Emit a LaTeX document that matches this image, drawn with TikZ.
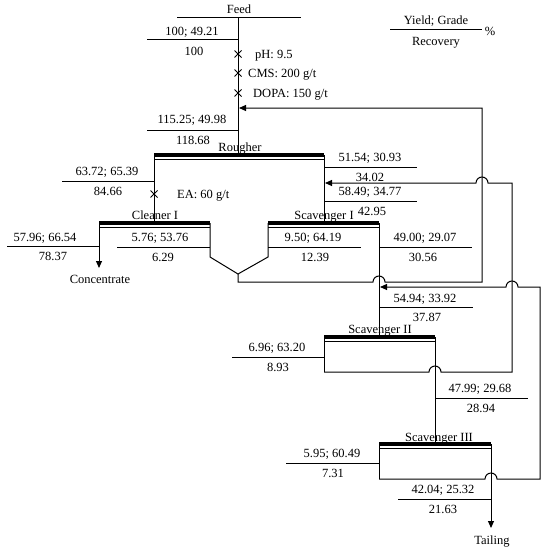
\documentclass[tikz,border=0pt]{standalone}
\usepackage{fontspec}
\setmainfont{Liberation Serif}
\usetikzlibrary{arrows.meta,shapes.misc}
\begin{document}
\begin{tikzpicture}[x=1pt,y=-1pt,font=\fontsize{12.5}{14}\selectfont,
  ln/.style={line width=1pt},
  bar/.style={line width=3.2pt},
  arr/.style={ln,-{Triangle[length=7pt,width=6pt]}},
  txt/.style={inner sep=0pt,anchor=base},
  txtl/.style={inner sep=0pt,anchor=base west},
  xmark/.style={draw,cross out,line width=1pt,minimum size=6pt,inner sep=0pt}]
\useasboundingbox (0,0) rectangle (550,551);
% key points
\coordinate (feedL) at (177,18);
\coordinate (feedR) at (301,18);
\coordinate (feedM) at (238,18);
\coordinate (roIn) at (238,155);
\coordinate (roL) at (154,155);
\coordinate (roR) at (324,155);
\coordinate (clL) at (99,223);
\coordinate (clR) at (210,223);
\coordinate (clIn) at (154,223);
\coordinate (s1L) at (268,223);
\coordinate (s1R) at (379,223);
\coordinate (s1In) at (324,223);
\coordinate (s2L) at (324,337);
\coordinate (s2R) at (435,337);
\coordinate (s2In) at (379,337);
\coordinate (s3L) at (379,444);
\coordinate (s3R) at (491,444);
\coordinate (s3In) at (435,444);
\coordinate (conc) at (99,268);
\coordinate (tail) at (491,528);
\coordinate (clB) at (210,257);
\coordinate (s1B) at (268,257);
\coordinate (vtip) at (238,274);
\coordinate (vend) at (238,282);
\coordinate (mid1) at (482,282);
\coordinate (mid2) at (482,108);
\coordinate (mid3) at (239,108);
\coordinate (s2BL) at (324,372);
\coordinate (s2BR) at (512,372);
\coordinate (r2T) at (512,183);
\coordinate (r2E) at (325,183);
\coordinate (s3BL) at (379,479);
\coordinate (s3BR) at (540,479);
\coordinate (r3T) at (540,287);
\coordinate (r3E) at (380,287);
\coordinate (j1) at (379,282);
\coordinate (j2) at (482,183);
\coordinate (j3) at (512,287);
\coordinate (j4) at (435,372);
\coordinate (j5) at (491,479);
% label lines
\foreach \n/\a/\b/\y in {1/147/238/40, 2/147/238/130, 3/62/154/181, 4/324/417/167,
  5/324/417/201, 6/7/99/246, 7/117/210/247, 8/268/361/247, 9/379/472/247,
  10/380/473/307, 11/232/324/357, 12/435/528/398, 13/286/379/463, 14/398/491/499,
  15/390/482/30}{
  \coordinate (ll\n a) at (\a,\y);
  \coordinate (ll\n b) at (\b,\y);
  \draw[ln] (ll\n a) -- (ll\n b);
}
% feed
\draw[ln] (feedL) -- (feedR);
\draw[ln] (feedM) -- (roIn);
\node[xmark] (x1) at (238,54) {};
\node[xmark] (x2) at (238,73) {};
\node[xmark] (x3) at (238,93) {};
\node[xmark] (x4) at (154,194) {};
% cell tops
\foreach \l/\r in {roL/roR, clL/clR, s1L/s1R, s2L/s2R, s3L/s3R}{
  \draw[bar] (\l) -- (\r);
  \draw[ln] ([yshift=-4.5pt]\l) -- ([yshift=-4.5pt]\r);
}
% rougher to cleaner / scavenger
\draw[ln] (roL) -- (clIn);
\draw[ln] (roR) -- (s1In);
% cleaner I and scavenger I, middlings recycle
\draw[arr] (clL) -- (conc);
\draw[ln] (clR) -- (clB) -- (vtip) -- (s1B) -- (s1L);
\draw[arr] (vtip) -- (vend) -- ([xshift=-6pt]j1) arc[start angle=180,end angle=360,radius=6]
  -- (mid1) -- (mid2) -- (mid3);
\draw[ln] (s1R) -- (s2In);
% scavenger II
\draw[ln] (s2L) -- (s2BL);
\draw[arr] (s2BL) -- ([xshift=-6pt]j4) arc[start angle=180,end angle=360,radius=6]
  -- (s2BR) -- (r2T) -- ([xshift=6pt]j2) arc[start angle=0,end angle=-180,radius=6] -- (r2E);
\draw[ln] (s2R) -- (s3In);
% scavenger III
\draw[ln] (s3L) -- (s3BL);
\draw[arr] (s3BL) -- ([xshift=-6pt]j5) arc[start angle=180,end angle=360,radius=6]
  -- (s3BR) -- (r3T) -- ([xshift=6pt]j3) arc[start angle=0,end angle=-180,radius=6] -- (r3E);
\draw[arr] (s3R) -- (tail);
% texts
\node[txt] (tFeed) at (239,13.5) {Feed};
\node[txt] (t1) at (192,35.5) {100; 49.21};
\node[txt] (t2) at (194,55.5) {100};
\node[txtl] (tpH) at (255,58.5) {pH: 9.5};
\node[txtl] (tCMS) at (248,77.5) {CMS: 200 g/t};
\node[txtl] (tDOPA) at (253,97.5) {DOPA: 150 g/t};
\node[txt] (t3) at (192,123.5) {115.25; 49.98};
\node[txt] (t4) at (193,144.5) {118.68};
\node[txt] (tRo) at (240,151) {Rougher};
\node[txt] (t5) at (107,175.5) {63.72; 65.39};
\node[txt] (t6) at (108,195.5) {84.66};
\node[txtl] (tEA) at (177,198.5) {EA: 60 g/t};
\node[txt] (tCl) at (155,219.5) {Cleaner I};
\node[txt] (t7) at (45,241.5) {57.96; 66.54};
\node[txt] (t8) at (53,260.5) {78.37};
\node[txt] (tConc) at (100,283.5) {Concentrate};
\node[txt] (t9) at (160,241.5) {5.76; 53.76};
\node[txt] (t10) at (163,261.5) {6.29};
\node[txt] (tS1) at (324,219.5) {Scavenger I};
\node[txt] (t11) at (372,215.5) {42.95};
\node[txt] (t12) at (370,161.5) {51.54; 30.93};
\node[txt] (t13) at (370,181.5) {34.02};
\node[txt] (t14) at (370,195.5) {58.49; 34.77};
\node[txt] (t15) at (313,241.5) {9.50; 64.19};
\node[txt] (t16) at (315,261.5) {12.39};
\node[txt] (t17) at (425,241.5) {49.00; 29.07};
\node[txt] (t18) at (423,261.5) {30.56};
\node[txt] (t19) at (425,302.5) {54.94; 33.92};
\node[txt] (t20) at (427,321.5) {37.87};
\node[txt] (tS2) at (380,333.5) {Scavenger II};
\node[txt] (t21) at (277,351.5) {6.96; 63.20};
\node[txt] (t22) at (278,371.5) {8.93};
\node[txt] (t23) at (480,392.5) {47.99; 29.68};
\node[txt] (t24) at (481,412.5) {28.94};
\node[txt] (tS3) at (439,441.5) {Scavenger III};
\node[txt] (t25) at (332,457.5) {5.95; 60.49};
\node[txt] (t26) at (333,477.5) {7.31};
\node[txt] (t27) at (443,493.5) {42.04; 25.32};
\node[txt] (t28) at (443,513.5) {21.63};
\node[txt] (tTail) at (492,544.5) {Tailing};
\node[txt] (tY) at (436,24.5) {Yield; Grade};
\node[txt] (tR) at (436,45.5) {Recovery};
\node[txt] (tP) at (490,35.5) {\%};
\end{tikzpicture}
\end{document}
